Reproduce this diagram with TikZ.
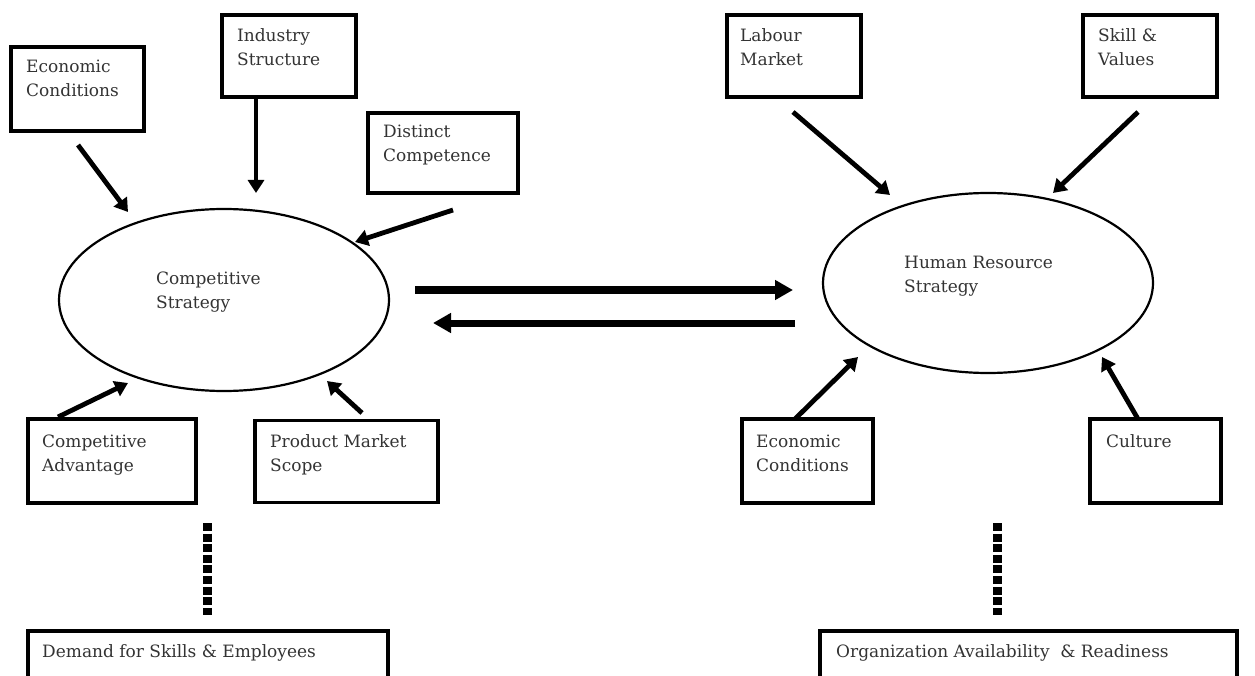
\documentclass[tikz,border=0pt]{standalone}
\usepackage{fontspec}
\setmainfont{DejaVu Serif}
\usetikzlibrary{arrows.meta,shapes.geometric}
\begin{document}
\begin{tikzpicture}[x=1pt,y=-1pt,
  box/.style={draw, line width=3.2pt, inner sep=0pt, outer sep=0pt},
  oval/.style={draw, ellipse, line width=2.2pt, inner sep=0pt},
  txt/.style={anchor=base west, align=left, inner sep=0pt, text=black!80,
    font=\fontsize{17}{24}\selectfont},
  arr/.style={line width=4.8pt, -{Triangle[length=13pt,width=16pt]}},
  bigarr/.style={line width=7pt, -{Triangle[length=18pt,width=19pt]}},
  dotline/.style={line width=9pt, dash pattern=on 8pt off 2.6pt}]
\path[use as bounding box] (0,0) rectangle (1255,676);
\clip (0,0) rectangle (1255,676);

% boxes around the competitive strategy
\node[box, minimum width=133pt, minimum height=84pt] (ecL) at (77.5,89) {};
\node[box, minimum width=134pt, minimum height=82pt] (ind) at (289,56) {};
\node[box, minimum width=150pt, minimum height=80pt] (dis) at (443,153) {};
\node[box, minimum width=168pt, minimum height=84pt] (cad) at (112,461) {};
\node[box, minimum width=183pt, minimum height=82pt] (pms) at (346.5,461.5) {};
\node[box, minimum width=360pt, minimum height=69pt] (dem) at (208,665.5) {};

% boxes around the human resource strategy
\node[box, minimum width=134pt, minimum height=82pt] (lab) at (794,56) {};
\node[box, minimum width=134pt, minimum height=82pt] (ski) at (1150,56) {};
\node[box, minimum width=131pt, minimum height=84pt] (ecR) at (807.5,461) {};
\node[box, minimum width=131pt, minimum height=84pt] (cul) at (1155.5,461) {};
\node[box, minimum width=417pt, minimum height=69pt] (org) at (1028.5,665.5) {};

% the two strategies
\node[oval, minimum width=330pt, minimum height=182pt] (cs) at (224,300) {};
\node[oval, minimum width=330pt, minimum height=180pt] (hr) at (988,283) {};

% labels (a two-line label sits on the baseline of its second line)
\node[txt] (ecLt) at (26,97) {Economic\\Conditions};
\node[txt] (indt) at (237,66) {Industry\\Structure};
\node[txt] (dist) at (383,162) {Distinct\\Competence};
\node[txt] (cadt) at (42,471) {Competitive\\Advantage};
\node[txt] (pmst) at (270,471) {Product Market\\Scope};
\node[txt] (demt) at (42,657) {Demand for Skills \& Employees};
\node[txt] (cst) at (156,308) {Competitive\\Strategy};
\node[txt] (labt) at (740,66) {Labour\\Market};
\node[txt] (skit) at (1098,66) {Skill \&\\Values};
\node[txt] (ecRt) at (756,471) {Economic\\Conditions};
\node[txt] (cult) at (1106,447) {Culture};
\node[txt] (orgt) at (836,657) {Organization Availability\ \ \& Readiness};
\node[txt] (hrt) at (904,292) {Human Resource\\Strategy};

% arrow ends
\coordinate (a1s) at (78,145);   \coordinate (a1e) at (128,212);
\coordinate (a2s) at (256,97);   \coordinate (a2e) at (256,193);
\coordinate (a3s) at (453,210);  \coordinate (a3e) at (355,242);
\coordinate (a4s) at (58,417);   \coordinate (a4e) at (128,383);
\coordinate (a5s) at (362,413);  \coordinate (a5e) at (327,381);
\coordinate (a6s) at (793,112);  \coordinate (a6e) at (890,195);
\coordinate (a7s) at (1138,112); \coordinate (a7e) at (1053,193);
\coordinate (a8s) at (795,419);  \coordinate (a8e) at (858,357);
\coordinate (a9s) at (1138,419); \coordinate (a9e) at (1102,357);
\coordinate (m1s) at (415,290);  \coordinate (m1e) at (793,290);
\coordinate (m2s) at (795,323);  \coordinate (m2e) at (433,323);
\coordinate (d1s) at (207,523);  \coordinate (d1e) at (207,615);
\coordinate (d2s) at (997,523);  \coordinate (d2e) at (997,615);

\draw[arr] (a1s) -- (a1e);
\draw[arr] (a2s) -- (a2e);
\draw[arr] (a3s) -- (a3e);
\draw[arr] (a4s) -- (a4e);
\draw[arr] (a5s) -- (a5e);
\draw[arr] (a6s) -- (a6e);
\draw[arr] (a7s) -- (a7e);
\draw[arr] (a8s) -- (a8e);
\draw[arr] (a9s) -- (a9e);
\draw[bigarr] (m1s) -- (m1e);
\draw[bigarr] (m2s) -- (m2e);
\draw[dotline] (d1s) -- (d1e);
\draw[dotline] (d2s) -- (d2e);
\end{tikzpicture}
\end{document}
